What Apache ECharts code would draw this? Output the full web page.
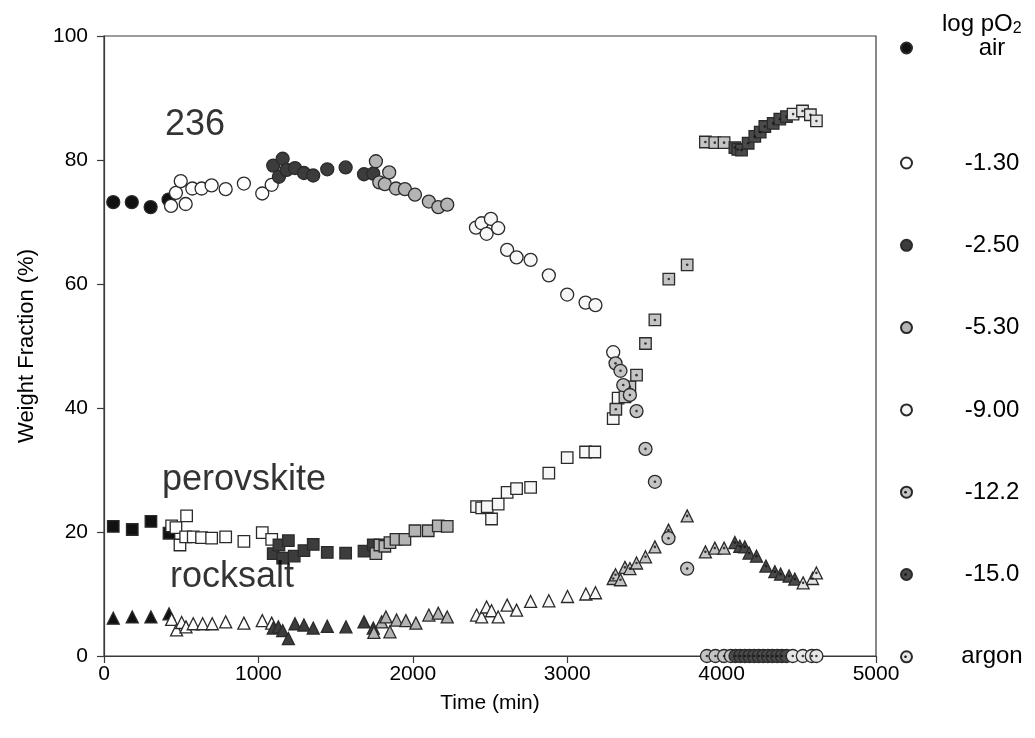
<!DOCTYPE html>
<html>
<head>
<meta charset="utf-8">
<script src="https://cdn.jsdelivr.net/npm/echarts@6/dist/echarts.min.js"></script>
<style>html,body{margin:0;padding:0;background:#fff}#c{width:1035px;height:738px}</style>
</head>
<body>
<div id="c"></div>
<script>
// ---------- data ----------
const xTicks = [0, 1000, 2000, 3000, 4000, 5000];
const yTicks = [0, 20, 40, 60, 80, 100];
const atmospheres = ['air', '-1.30', '-2.50', '-5.30', '-9.00', '-12.2', '-15.0', 'argon'];

// phase "236" (circles)
const c_air  = [[60,73.2],[180,73.2],[302,72.4],[418,73.6]];
const c_m130 = [[434,72.6],[466,74.7],[497,76.6],[529,72.9],[572,75.4],[632,75.4],[697,75.9],[788,75.3],[906,76.2],[1025,74.6],[1086,76.0]];
const c_m250 = [[1096,79.1],[1133,77.3],[1157,80.2],[1183,78.4],[1237,78.7],[1295,77.9],[1355,77.5],[1446,78.5],[1565,78.8],[1684,77.7],[1744,77.8]];
const c_m530 = [[1761,79.8],[1783,76.4],[1819,76.1],[1847,78.0],[1891,75.4],[1949,75.3],[2014,74.4],[2104,73.3],[2165,72.4],[2223,72.8]];
const c_m900 = [[2409,69.1],[2446,69.8],[2478,68.1],[2506,70.5],[2553,69.0],[2611,65.5],[2672,64.3],[2763,63.9],[2881,61.4],[3000,58.3],[3119,57.0],[3183,56.6],[3298,49.0]];
const c_m122 = [[3313,47.2],[3345,46.0],[3363,43.7],[3406,42.1],[3449,39.5],[3507,33.4],[3568,28.1],[3656,19.0],[3777,14.1],[3905,0],[3960,0],[4016,0],[4060,0]];
const c_m150 = [[4090,0],[4120,0],[4150,0],[4180,0],[4210,0],[4240,0],[4270,0],[4300,0],[4330,0],[4360,0],[4390,0],[4420,0]];
const c_argon = [[4461,0],[4526,0],[4584,0],[4614,0]];

// perovskite (squares)
const s_air  = [[60,20.9],[183,20.4],[304,21.7],[421,19.8]];
const s_m130 = [[438,21.0],[466,20.7],[492,17.9],[529,19.2],[535,22.6],[578,19.2],[632,19.1],[697,19.0],[788,19.2],[906,18.5],[1025,19.9],[1086,18.8]];
const s_m250 = [[1096,16.5],[1133,17.9],[1157,15.8],[1194,18.6],[1232,16.1],[1295,17.0],[1355,18.0],[1446,16.7],[1565,16.6],[1684,16.9],[1744,17.9]];
const s_m530 = [[1761,16.5],[1787,17.9],[1819,17.7],[1852,18.3],[1891,18.8],[1949,18.8],[2014,20.2],[2100,20.2],[2165,21.0],[2223,20.9]];
const s_m900 = [[2413,24.1],[2446,23.9],[2482,24.1],[2510,22.1],[2553,24.5],[2611,26.4],[2672,27.0],[2763,27.2],[2881,29.5],[3000,32.0],[3119,32.9],[3179,32.9],[3298,38.3],[3330,41.6]];
const s_m122 = [[3315,39.8],[3374,41.8],[3406,43.4],[3449,45.3],[3507,50.4],[3568,54.2],[3658,60.8],[3777,63.1],[3895,82.9],[3956,82.8],[4016,82.8]];
const s_m150 = [[4086,82.0],[4105,81.7],[4129,81.6],[4172,82.7],[4215,83.8],[4250,84.5],[4280,85.4],[4334,85.9],[4377,86.6],[4420,87.0]];
const s_argon = [[4463,87.4],[4524,87.9],[4575,87.3],[4614,86.3]];

// rocksalt (triangles)
const t_air  = [[60,6.1],[183,6.3],[304,6.3],[421,6.8]];
const t_m130 = [[438,5.9],[470,4.2],[503,5.4],[531,4.7],[578,5.2],[639,5.2],[701,5.2],[788,5.5],[906,5.3],[1025,5.7],[1086,5.3]];
const t_m250 = [[1096,4.5],[1129,4.7],[1157,4.1],[1194,2.8],[1237,5.2],[1295,5.0],[1355,4.5],[1446,4.8],[1567,4.7],[1684,5.5],[1744,4.5]];
const t_m530 = [[1748,3.8],[1798,5.5],[1826,6.3],[1852,3.9],[1895,5.8],[1955,5.7],[2020,5.3],[2104,6.6],[2165,6.9],[2223,6.3]];
const t_m900 = [[2413,6.6],[2446,6.3],[2478,7.9],[2510,7.3],[2553,6.3],[2611,8.2],[2672,7.4],[2763,8.8],[2881,8.9],[3002,9.6],[3121,10.0],[3183,10.2]];
const t_m122 = [[3298,12.5],[3313,13.1],[3345,12.3],[3374,14.3],[3406,14.1],[3449,15.0],[3507,16.0],[3568,17.6],[3656,20.3],[3777,22.6],[3895,16.8],[3956,17.4],[4016,17.4]];
const t_m150 = [[4086,18.3],[4118,17.7],[4150,17.6],[4178,16.6],[4226,16.1],[4287,14.5],[4345,13.6],[4382,13.2],[4437,12.9],[4474,12.4]];
const t_argon = [[4528,11.8],[4589,12.5],[4614,13.4]];

// in-plot annotations
const noteText = ['236', 'perovskite', 'rocksalt'];
const noteX = [395, 376, 427];
const noteY = [85.6, 28.4, 12.8];

// ---------- styling ----------
const fills = {
  'air': '#111111', '-1.30': '#ffffff', '-2.50': '#3c3c3c', '-5.30': '#b4b4b4',
  '-9.00': '#f7f7f7', '-12.2': '#c4c4c4', '-15.0': '#4a4a4a', 'argon': '#e6e6e6'
};
const dotted = { '-12.2': true, '-15.0': true, 'argon': true };
const circleData = [c_air, c_m130, c_m250, c_m530, c_m900, c_m122, c_m150, c_argon];
const squareData = [s_air, s_m130, s_m250, s_m530, s_m900, s_m122, s_m150, s_argon];
const triData = [t_air, t_m130, t_m250, t_m530, t_m900, t_m122, t_m150, t_argon];

const FONT = 'Liberation Sans, Arial, Helvetica, sans-serif';
const series = [];
function addGroup(dataList, symbol, size, suffix) {
  atmospheres.forEach((atm, i) => {
    series.push({
      name: atm + suffix, type: 'scatter', symbol: symbol, symbolSize: size,
      data: dataList[i], clip: false,
      itemStyle: { color: fills[atm], borderColor: '#2a2a2a', borderWidth: 1.3, opacity: 1 },
      emphasis: { disabled: true }
    });
    if (dotted[atm]) {
      series.push({
        name: atm + suffix + ' dot', type: 'scatter', symbol: 'circle', symbolSize: 2.6,
        data: dataList[i], clip: false, silent: true,
        itemStyle: { color: '#111' }, emphasis: { disabled: true }
      });
    }
  });
}
addGroup(triData, 'triangle', 12, ' (rocksalt)');
addGroup(squareData, 'rect', 11.5, ' (perovskite)');
addGroup(circleData, 'circle', 13, '');

series.push({
  name: 'notes', type: 'scatter', symbolSize: 0, silent: true,
  data: noteText.map((t, i) => [noteX[i], noteY[i], t]),
  label: { show: true, position: 'right', distance: 0, formatter: p => p.data[2],
           fontSize: 36, color: '#000', fontFamily: FONT }
});

// legend layout
const LEG_LEFT = 895, LEG_PAD = 5, ICON = 11, ROW_H = 24, ROW_GAP = 58.3, LEG2_TOP = 146;
const legendText = {
  formatter: n => '{a|' + n + '}',
  textStyle: { rich: { a: { width: 150, align: 'center', fontSize: 24, lineHeight: ROW_H, color: '#000', fontFamily: FONT } } }
};
// centre dots for the dotted legend icons
const legendDots = atmospheres.slice(1).map((atm, k) => dotted[atm] ? {
  type: 'circle', z: 100, silent: true,
  shape: { cx: LEG_LEFT + LEG_PAD + ICON / 2, cy: LEG2_TOP + LEG_PAD + k * (ROW_H + ROW_GAP) + ROW_H / 2, r: 1.3 },
  style: { fill: '#111' }
} : null).filter(Boolean);

const option = {
  backgroundColor: '#ffffff',
  animation: false,
  title: {
    text: 'log pO{s|2}', left: 937, top: 6,
    textStyle: { fontSize: 24, fontWeight: 'normal', color: '#000', fontFamily: FONT,
      rich: { s: { fontSize: 16, verticalAlign: 'bottom', padding: [10, 0, 0, 0], fontFamily: FONT, color: '#000' } } }
  },
  legend: [
    Object.assign({ data: ['air'], orient: 'vertical', left: LEG_LEFT, top: 31, icon: 'circle', padding: LEG_PAD,
      itemWidth: ICON, itemHeight: ICON, selectedMode: false }, legendText),
    Object.assign({ data: atmospheres.slice(1), orient: 'vertical', left: LEG_LEFT, top: LEG2_TOP, icon: 'circle', padding: LEG_PAD,
      itemWidth: ICON, itemHeight: ICON, itemGap: ROW_GAP, selectedMode: false }, legendText)
  ],
  graphic: legendDots,
  grid: { left: 104, right: 159, top: 36, bottom: 82, show: true, borderColor: '#3a3a3a', borderWidth: 1.2, backgroundColor: 'transparent' },
  xAxis: {
    type: 'value', min: 0, max: 5000, interval: 1000,
    name: 'Time (min)', nameLocation: 'middle', nameGap: 37,
    nameTextStyle: { fontSize: 21, color: '#000', fontFamily: FONT },
    axisLine: { show: true, lineStyle: { color: '#3a3a3a', width: 1.2 } },
    axisTick: { show: true, inside: false, length: 7, lineStyle: { color: '#3a3a3a', width: 1.2 } },
    axisLabel: { fontSize: 21, color: '#000', margin: 8, fontFamily: FONT,
      formatter: v => xTicks.indexOf(v) >= 0 ? String(v) : '' },
    splitLine: { show: false }
  },
  yAxis: {
    type: 'value', min: 0, max: 100, interval: 20,
    name: 'Weight Fraction (%)', nameLocation: 'middle', nameGap: 66,
    nameTextStyle: { fontSize: 22, color: '#000', fontFamily: FONT },
    axisLine: { show: true, lineStyle: { color: '#3a3a3a', width: 1.2 } },
    axisTick: { show: true, inside: false, length: 7, lineStyle: { color: '#3a3a3a', width: 1.2 } },
    axisLabel: { fontSize: 21, color: '#000', margin: 16, fontFamily: FONT,
      formatter: v => yTicks.indexOf(v) >= 0 ? String(v) : '' },
    splitLine: { show: false }
  },
  series: series
};

const chart = echarts.init(document.getElementById('c'), null, { renderer: 'canvas' });
chart.setOption(option);
</script>
</body>
</html>
